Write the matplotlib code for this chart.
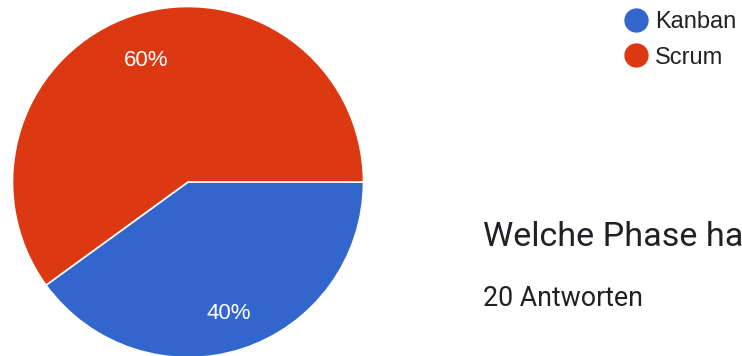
import matplotlib
matplotlib.use("Agg")
import matplotlib.pyplot as plt
import matplotlib.transforms as mtransforms
from matplotlib.lines import Line2D

# Survey answers
categories = ["Kanban", "Scrum"]
shares = [40, 60]
colors = ["#3366CC", "#DC3912"]
title = "Welche Phase ha"
subtitle = "20 Antworten"

W, H = 742, 356
fig = plt.figure(figsize=(W / 100, H / 100), dpi=100)

# Pie axes placed in pixel terms: center (188, 182), radius 175.5
cx, cy, r = 188, 182, 175.5
ax = fig.add_axes([(cx - r) / W, (H - cy - r) / H, 2 * r / W, 2 * r / H])
wedges, texts, autotexts = ax.pie(
    shares,
    colors=colors,
    startangle=0,
    counterclock=False,
    radius=1,
    autopct=lambda p: f"{p:.0f}%",
    pctdistance=0.755,
    wedgeprops=dict(edgecolor="white", linewidth=1.2),
    textprops=dict(color="white", fontsize=16, family=["Liberation Sans", "DejaVu Sans"]),
)
# nudge the percentage labels down a little so the glyphs sit centred
for t in autotexts:
    t.set_transform(mtransforms.offset_copy(ax.transData, fig=fig, x=-0.5, y=-5, units="dots"))
ax.set_xlim(-1, 1)
ax.set_ylim(-1, 1)
ax.set_aspect("equal")
ax.axis("off")

# Legend with circular markers
handles = [
    Line2D([], [], linestyle="none", marker="o", markersize=16.5,
           markerfacecolor=c, markeredgecolor=c)
    for c in colors
]
fig.legend(
    handles, categories,
    loc="upper left",
    bbox_to_anchor=(612 / W, 1 + 1 / H),
    frameon=False,
    handlelength=1.0,
    handletextpad=0.32,
    labelspacing=0.59,
    borderpad=0,
    prop=dict(family=["Liberation Sans", "DejaVu Sans"], size=17),
    labelcolor="#222222",
)

fig.text(483 / W, 1 - 237 / H, title, fontsize=24.6, family=["Roboto", "DejaVu Sans"],
         color="#202124", va="center", ha="left")
fig.text(483 / W, 1 - 298 / H, subtitle, fontsize=19.3, family=["Roboto", "DejaVu Sans"],
         color="#202124", va="center", ha="left")

fig.savefig("out.png", dpi=100)
